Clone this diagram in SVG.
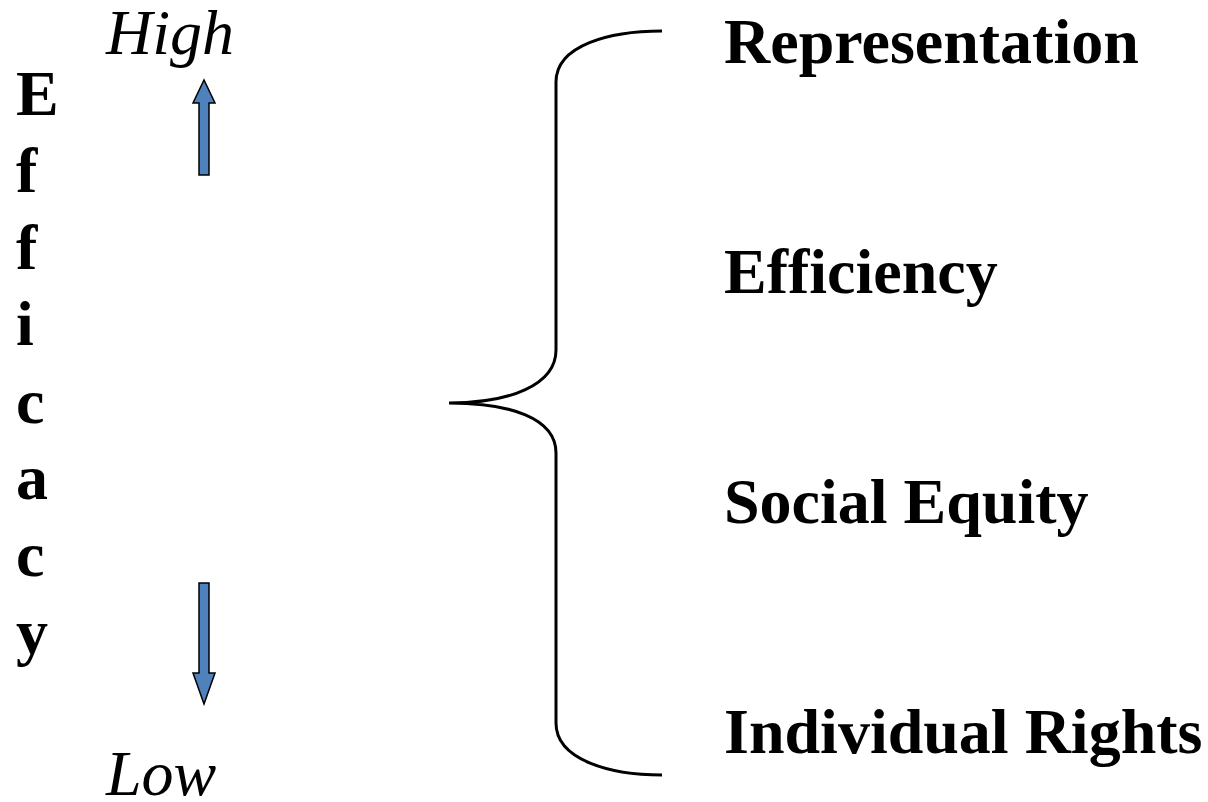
<svg xmlns="http://www.w3.org/2000/svg" width="1208" height="802" viewBox="0 0 1208 802">
<style>
text{font-family:"Liberation Serif","Times New Roman",serif;font-size:64px;fill:#000}
.b{font-weight:bold}
.i{font-style:italic}
.arrow{fill:#4F81BD;stroke:#000;stroke-width:1.5}
.brace{fill:none;stroke:#000;stroke-width:3}
</style>
<rect width="1208" height="802" fill="#fff"/>
<g id="axis-label">
<text class="b" x="16" y="115">E</text>
<text class="b" x="16" y="192">f</text>
<text class="b" x="16" y="269">f</text>
<text class="b" x="16" y="345">i</text>
<text class="b" x="16" y="423">c</text>
<text class="b" x="16" y="499">a</text>
<text class="b" x="16" y="576">c</text>
<text class="b" x="16" y="653">y</text>
</g>
<g id="high"><text class="i" x="106" y="54">High</text></g>
<g id="low"><text class="i" x="106" y="795">Low</text></g>
<g id="up-arrow"><polygon class="arrow" points="199,175 209,175 209,103 215,103 204,80 193,103 199,103"/></g>
<g id="down-arrow"><polygon class="arrow" points="199,583 209,583 209,673 215,673 204,704 193,673 199,673"/></g>
<g id="connectors">
<path class="brace" d="M662,31 C610,31 556,45 556,82 L556,350 C556,385 510,403 449,403 C510,403 556,418 556,453 L556,723 C556,760 610,775 662,775"/>
</g>
<g id="representation"><text class="b" x="724" y="63">Representation</text></g>
<g id="efficiency"><text class="b" x="724" y="293">Efficiency</text></g>
<g id="social-equity"><text class="b" x="724" y="523">Social Equity</text></g>
<g id="individual-rights"><text class="b" x="724" y="753">Individual Rights</text></g>
</svg>
